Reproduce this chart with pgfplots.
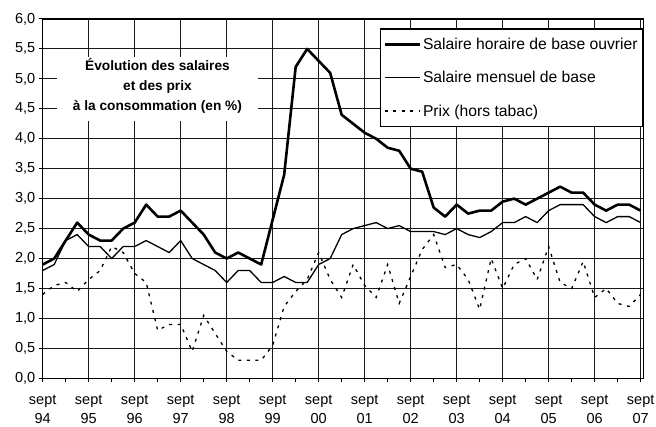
\documentclass[border=0pt]{standalone}
\usepackage{fontspec}
\setmainfont{Liberation Sans}
\usepackage{pgfplots}
\usepackage{pgfplotstable}
\pgfplotsset{compat=1.18}

\pgfplotstableread{
i h m p
0 1.9 1.8 1.4
1 2.0 1.9 1.55
2 2.3 2.3 1.6
3 2.6 2.4 1.45
4 2.4 2.2 1.65
5 2.3 2.2 1.8
6 2.3 2.0 2.2
7 2.5 2.2 2.1
8 2.6 2.2 1.75
9 2.9 2.3 1.6
10 2.7 2.2 0.8
11 2.7 2.1 0.9
12 2.8 2.3 0.9
13 2.6 2.0 0.45
14 2.4 1.9 1.05
15 2.1 1.8 0.75
16 2.0 1.6 0.45
17 2.1 1.8 0.3
18 2.0 1.8 0.3
19 1.9 1.6 0.3
20 2.65 1.6 0.55
21 3.4 1.7 1.2
22 5.2 1.6 1.45
23 5.5 1.6 1.65
24 5.3 1.9 2.1
25 5.1 2.0 1.65
26 4.4 2.4 1.35
27 4.25 2.5 1.9
28 4.1 2.55 1.55
29 4.0 2.6 1.35
30 3.85 2.5 1.9
31 3.8 2.55 1.25
32 3.5 2.45 1.7
33 3.45 2.45 2.15
34 2.85 2.45 2.4
35 2.7 2.4 1.85
36 2.9 2.5 1.9
37 2.75 2.4 1.65
38 2.8 2.35 1.15
39 2.8 2.45 2.0
40 2.95 2.6 1.5
41 3.0 2.6 1.9
42 2.9 2.7 2.0
43 3.0 2.6 1.65
44 3.1 2.8 2.2
45 3.2 2.9 1.6
46 3.1 2.9 1.5
47 3.1 2.9 1.95
48 2.9 2.7 1.35
49 2.8 2.6 1.5
50 2.9 2.7 1.25
51 2.9 2.7 1.2
52 2.8 2.6 1.4
}\data

\begin{document}
\begin{tikzpicture}
\begin{axis}[
  at={(0,0)}, anchor=south west,
  scale only axis, width=600.6pt, height=359.3pt,
  xmin=0, xmax=52.23, ymin=0, ymax=6,
  xtick={0,4,8,12,16,20,24,28,32,36,40,44,48,52},
  xticklabels={{sept\\94},{sept\\95},{sept\\96},{sept\\97},{sept\\98},{sept\\99},{sept\\00},{sept\\01},{sept\\02},{sept\\03},{sept\\04},{sept\\05},{sept\\06},{sept\\07}},
  minor xtick={2,6,10,14,18,22,26,30,34,38,42,46,50},
  ytick={0,0.5,1,1.5,2,2.5,3,3.5,4,4.5,5,5.5,6},
  grid=major,
  major grid style={black!90, line width=1pt},
  axis line style={black, line width=1.2pt},
  tick align=outside, xtick pos=bottom, ytick pos=left,
  major tick length=4pt, minor tick length=4pt,
  tick style={black, line width=1pt},
  /pgf/number format/assume math mode=true,
  yticklabel style={/pgf/number format/.cd, use comma, fixed, fixed zerofill, precision=1, /tikz/.cd, font=\fontsize{14.5}{17}\selectfont},
  xticklabel style={align=center, font=\fontsize{14.5}{19}\selectfont, yshift=-9pt},
  no markers,
  legend style={at={(1,0.974)}, anchor=north east, draw=black, line width=1.2pt, fill=white,
    font=\fontsize{15.7}{18}\selectfont, row sep=16.5pt, inner xsep=3pt, inner ysep=7pt,
    cells={anchor=west}},
  legend image code/.code={\draw[#1] (0pt,0pt) -- (35pt,0pt);},
]
\addplot[black, line width=2.6pt, line join=round] table[x=i,y=h]{\data};
\addlegendentry{Salaire horaire de base ouvrier}
\addplot[black, line width=1.3pt, line join=round] table[x=i,y=m]{\data};
\addlegendentry{Salaire mensuel de base}
\addplot[black, line width=1.3pt, dash pattern=on 3pt off 5.5pt] table[x=i,y=p]{\data};
\addlegendentry{Prix (hors tabac)}
\fill[white] (rel axis cs:0.0238,0.7170) rectangle (rel axis cs:0.3585,0.8951);
\node[anchor=base, font=\bfseries\fontsize{13.7}{16}\selectfont] at (rel axis cs:0.1911,0.8561) {Évolution des salaires};
\node[anchor=base, font=\bfseries\fontsize{13.7}{16}\selectfont] at (rel axis cs:0.1911,0.8004) {et des prix};
\node[anchor=base, font=\bfseries\fontsize{13.7}{16}\selectfont] at (rel axis cs:0.1911,0.7459) {à la consommation (en \%)};
\end{axis}
\pgfresetboundingbox
\path[use as bounding box] (-42.7pt,-48.7pt) rectangle (613.3pt,378.3pt);
\end{tikzpicture}
\end{document}
